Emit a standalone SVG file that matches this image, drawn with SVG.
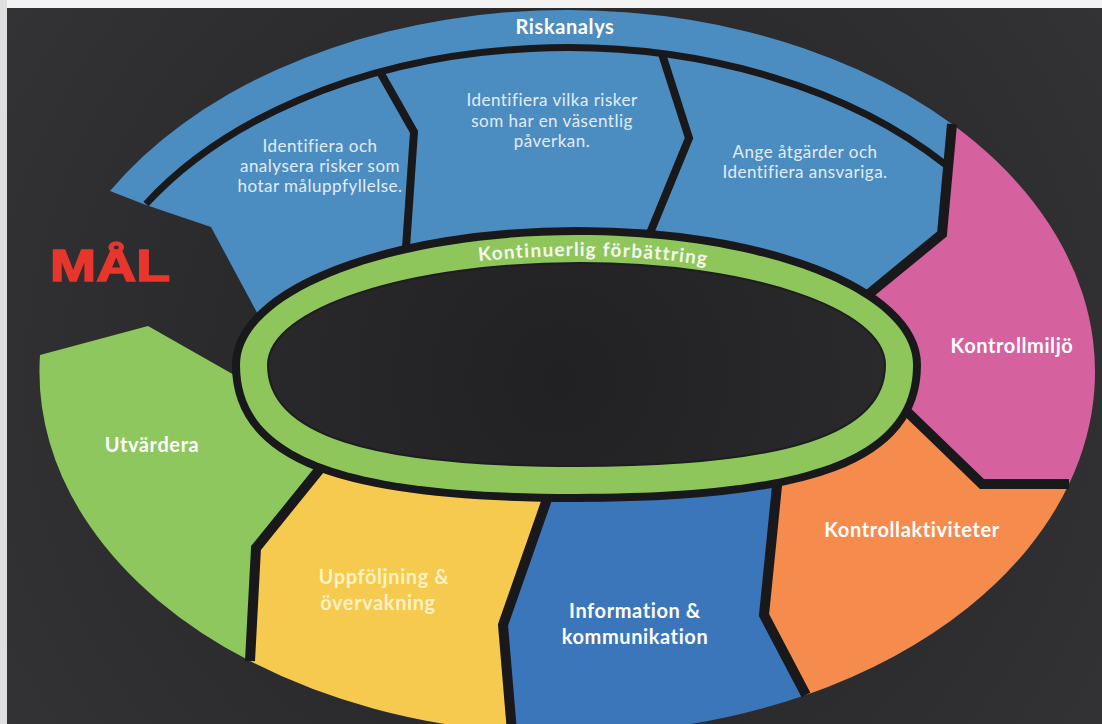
<svg xmlns="http://www.w3.org/2000/svg" width="1102" height="724" viewBox="0 0 1102 724">
<defs>
<radialGradient id="bg" gradientUnits="userSpaceOnUse" cx="560" cy="380" r="700">
<stop offset="0" stop-color="#212123"/>
<stop offset="1" stop-color="#343436"/>
</radialGradient>
<style>
.sep{fill:none;stroke:#19191b;stroke-linejoin:miter;stroke-width:10}
.lbl{font-family:Lato,"Open Sans","Liberation Sans",sans-serif;font-weight:700;font-size:20px;letter-spacing:0.6px;fill:#ffffff;text-anchor:middle}
.txt{font-family:Lato,"Open Sans","Liberation Sans",sans-serif;font-size:17px;letter-spacing:0.5px;fill:#e3ecf5;text-anchor:middle}
.pale{fill:#fdf2c4}
</style>
</defs>
<rect x="0" y="0" width="1102" height="724" fill="url(#bg)"/>
<rect x="0" y="0" width="1102" height="8" fill="#f3f3f3"/>
<rect x="0" y="0" width="7" height="724" fill="#dedede"/>

<g id="node-riskanalys">
<path d="M110,191 A528,362 0 0 1 952,124 L942,234 L864,298 L857,306 A324,117 0 0 0 290,313 L262,322 L211,227 L146,205 Z" fill="#4b8dc1"/>
<text class="lbl" x="565" y="34">Riskanalys</text>
</g>
<g id="node-risk-1">
<text class="txt" x="320" y="152">Identifiera och</text>
<text class="txt" x="320" y="172">analysera risker som</text>
<text class="txt" x="320" y="192">hotar måluppfyllelse.</text>
</g>
<g id="node-risk-2">
<text class="txt" x="552" y="106">Identifiera vilka risker</text>
<text class="txt" x="552" y="127">som har en väsentlig</text>
<text class="txt" x="552" y="147">påverkan.</text>
</g>
<g id="node-risk-3">
<text class="txt" x="805" y="158">Ange åtgärder och</text>
<text class="txt" x="805" y="178">Identifiera ansvariga.</text>
</g>

<g id="node-kontrollmiljo">
<path d="M952,124 A528,362 0 0 1 1069,484 L982,484 L896,401 L899,366 L857,306 L864,298 L942,234 Z" fill="#d5619f"/>
<text class="lbl" x="1012" y="353">Kontrollmiljö</text>
</g>
<g id="node-kontrollaktiviteter">
<path d="M779,466 L834,457 L885,422 L896,401 L982,484 L1069,484 A528,362 0 0 1 806,695 L764,615 Z" fill="#f58b4d"/>
<text class="lbl" x="912" y="537">Kontrollaktiviteter</text>
</g>
<g id="node-information">
<path d="M553,482 L660,480 L779,466 L764,615 L806,695 A528,362 0 0 1 512,732 L503,625 Z" fill="#3b76ba"/>
<text class="lbl" x="635" y="618">Information &amp;</text>
<text class="lbl" x="635" y="644">kommunikation</text>
</g>
<g id="node-uppfoljning">
<path d="M328,459 L418,475 L553,482 L503,625 L512,732 A528,362 0 0 1 250,661 L256,548 Z" fill="#f6c94f"/>
<text class="lbl pale" x="384" y="584">Uppföljning &amp;</text>
<text class="lbl pale" x="378" y="610">övervakning</text>
</g>
<g id="node-utvardera">
<path d="M40,355 L148,326 L236,376 L254,368 L268,422 L328,459 L256,548 L250,661 A528,362 0 0 1 40,355 Z" fill="#8dc75d"/>
<text class="lbl" x="152" y="452">Utvärdera</text>
</g>

<g id="separators">
<path class="sep" style="stroke-width:7" d="M146,204 A492,324 0 0 1 946,165"/>
<path class="sep" style="stroke-width:8" d="M380,72 L414,132 L405,262"/>
<path class="sep" style="stroke-width:8" d="M662,54 L689,138 L643,250"/>
<path class="sep" d="M952,124 L942,234 L864,298 L857,306"/>
<path class="sep" d="M896,401 L982,484 L1069,484"/>
<path class="sep" d="M779,466 L764,615 L806,695"/>
<path class="sep" d="M553,482 L503,625 L512,732"/>
<path class="sep" d="M328,459 L256,548 L250,661"/>
</g>

<g id="node-kontinuerlig">
<path d="M240,365 C240,293.2 391.3,235 578,235 C763,235 913,293.2 913,365 C913,455.3 811.9,494 576,494 C340.8,494 240,455.3 240,365 Z" fill="#19191b" stroke="#19191b" stroke-width="16"/>
<path d="M240,365 C240,293.2 391.3,235 578,235 C763,235 913,293.2 913,365 C913,455.3 811.9,494 576,494 C340.8,494 240,455.3 240,365 Z" fill="#8ec65c"/>
<path d="M268,365 C268,308.7 407.7,263 580,263 C748.5,263 885,308.7 885,365 C885,433.7 786.4,466 577,466 C366.9,466 268,433.7 268,365 Z" fill="url(#bg)" stroke="#1e1e20" stroke-width="2"/>
<path id="kfpath" d="M253,368 A325,112 0 0 1 903,368" fill="none"/>
<text class="lbl" style="font-size:19px;letter-spacing:1.2px;fill:#f6f9ee"><textPath href="#kfpath" startOffset="379">Kontinuerlig förbättring</textPath></text>
</g>

<g id="node-mal">
<text x="110" y="281" text-anchor="middle" font-family="'Liberation Sans',Arial,sans-serif" font-weight="700" font-size="44" fill="#e8362c" stroke="#e8362c" stroke-width="1.5" textLength="120" lengthAdjust="spacingAndGlyphs">MÅL</text>
</g>
</svg>
